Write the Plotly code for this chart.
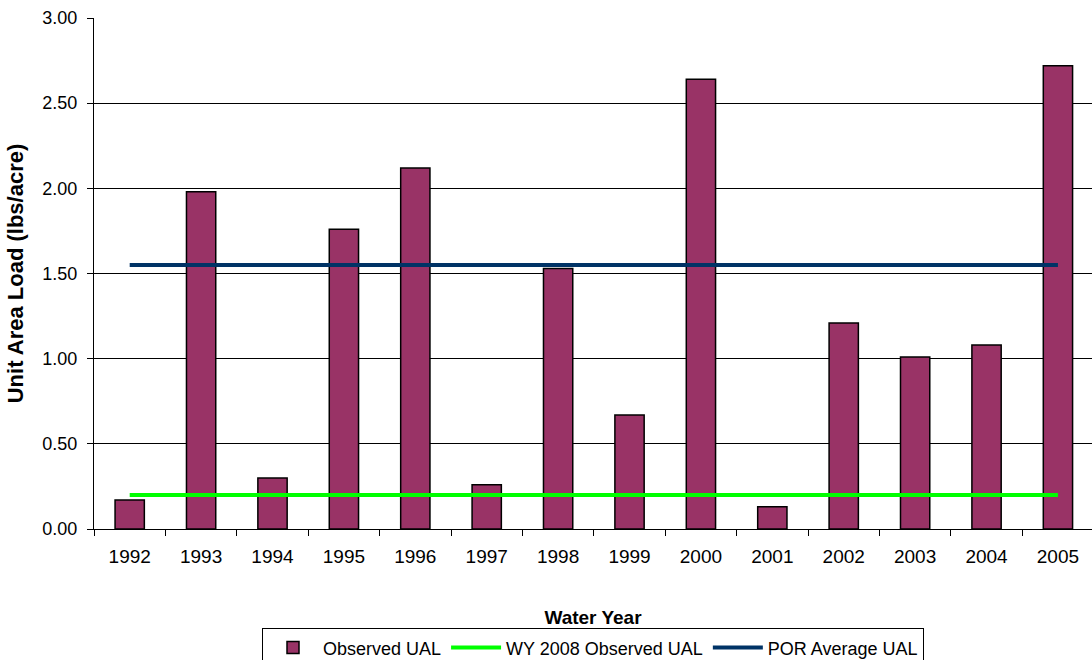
import plotly.graph_objects as go

# Water years and observed unit area loads (lbs/acre)
years = ["1992", "1993", "1994", "1995", "1996", "1997", "1998",
         "1999", "2000", "2001", "2002", "2003", "2004", "2005"]
observed_ual = [0.17, 1.98, 0.30, 1.76, 2.12, 0.26, 1.53,
                0.67, 2.64, 0.13, 1.21, 1.01, 1.08, 2.72]

# Reference levels drawn as horizontal lines across all years
wy2008_ual = 0.20
por_average_ual = 1.55

y_ticks = [0.0, 0.5, 1.0, 1.5, 2.0, 2.5, 3.0]

FONT = "Liberation Sans, Arial, sans-serif"

fig = go.Figure()

fig.add_trace(go.Bar(
    x=years, y=observed_ual, name="Observed UAL",
    width=0.41,
    marker=dict(color="#993366", line=dict(color="#000000", width=1.5)),
))

fig.add_trace(go.Scatter(
    x=years, y=[wy2008_ual] * len(years), name="WY 2008 Observed UAL",
    mode="lines", line=dict(color="#00FF00", width=4),
))

fig.add_trace(go.Scatter(
    x=years, y=[por_average_ual] * len(years), name="POR Average UAL",
    mode="lines", line=dict(color="#003366", width=4),
))

fig.update_layout(
    width=1092, height=660,
    margin=dict(l=94, r=0, t=18, b=131, autoexpand=False),
    paper_bgcolor="white", plot_bgcolor="white",
    font=dict(family=FONT, size=18, color="#000000"),
    showlegend=True,
    legend=dict(
        orientation="h", x=0.5, xanchor="center",
        yref="container", y=0.048, yanchor="top",
        bordercolor="#000000", borderwidth=1, bgcolor="white",
        font=dict(family=FONT, size=18), traceorder="normal",
        itemwidth=50, tracegroupgap=0,
    ),
)

fig.update_xaxes(
    type="category",
    range=[-0.5, 13.477],
    tickson="boundaries",
    ticks="outside", ticklen=6, tickcolor="#000000",
    showline=True, linecolor="#000000", linewidth=1,
    showgrid=False,
    tickfont=dict(size=19),
    ticklabelstandoff=10,
    title=dict(text="<b>Water Year</b>", font=dict(size=19), standoff=48),
)

fig.update_yaxes(
    range=[0, 3.0],
    tickvals=y_ticks, tickformat=".2f",
    ticks="outside", ticklen=6, tickcolor="#000000",
    showline=True, linecolor="#000000", linewidth=1,
    showgrid=True, gridcolor="#000000", gridwidth=1,
    zeroline=False,
    tickfont=dict(size=18),
    ticklabelstandoff=6,
    title=dict(text="<b>Unit Area Load (lbs/acre)</b>", font=dict(size=22), standoff=12),
)

fig.write_html("out.html")
